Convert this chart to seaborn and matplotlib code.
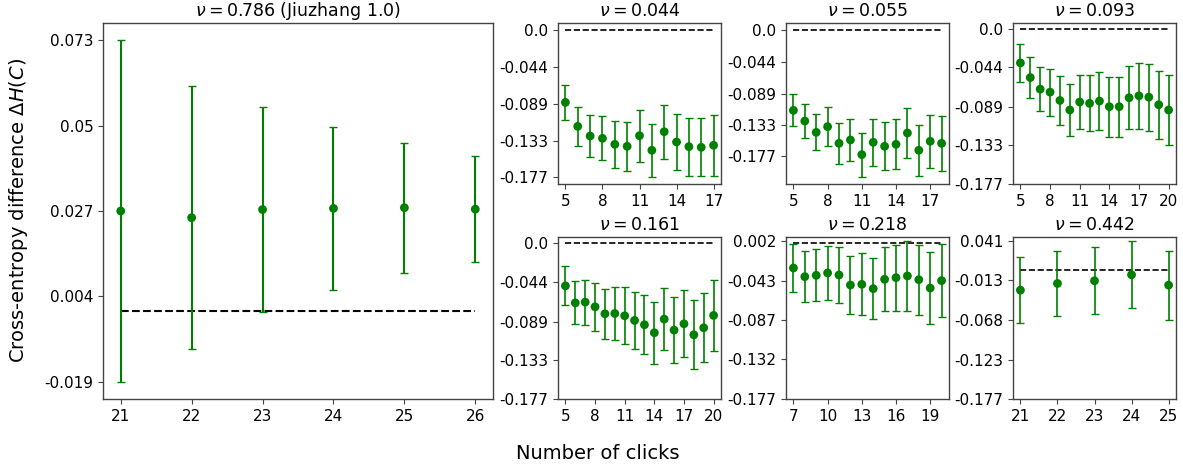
import numpy as np
import pandas as pd
import matplotlib
matplotlib.use("Agg")
import matplotlib.pyplot as plt
import seaborn as sns

# ---------------- data ----------------
titles = [r"$\nu = 0.786$ (Jiuzhang 1.0)", r"$\nu = 0.044$", r"$\nu = 0.055$",
          r"$\nu = 0.093$", r"$\nu = 0.161$", r"$\nu = 0.218$", r"$\nu = 0.442$"]

x_0786 = [21, 22, 23, 24, 25, 26]
y_0786 = [0.0270, 0.0252, 0.0274, 0.0277, 0.0279, 0.0275]
e_0786 = [0.0461, 0.0355, 0.0276, 0.0219, 0.0175, 0.0143]

x_0044 = list(range(5, 18))
y_0044 = [-0.0869, -0.1157, -0.1274, -0.1302, -0.1374, -0.1398, -0.1270,
          -0.1446, -0.1222, -0.1346, -0.1402, -0.1410, -0.1386]
e_0044 = [0.0214, 0.0236, 0.0250, 0.0266, 0.0282, 0.0292, 0.0314,
          0.0318, 0.0326, 0.0340, 0.0348, 0.0351, 0.0370]

x_0055 = list(range(5, 19))
y_0055 = [-0.1125, -0.1275, -0.1434, -0.1354, -0.1588, -0.1541, -0.1747,
          -0.1574, -0.1630, -0.1602, -0.1443, -0.1686, -0.1560, -0.1588]
e_0055 = [0.0224, 0.0243, 0.0252, 0.0278, 0.0287, 0.0301, 0.0310,
          0.0330, 0.0336, 0.0350, 0.0357, 0.0357, 0.0374, 0.0385]

x_0093 = list(range(5, 21))
y_0093 = [-0.0389, -0.0556, -0.0688, -0.0722, -0.0817, -0.0926, -0.0835, -0.0850,
          -0.0824, -0.0888, -0.0888, -0.0786, -0.0764, -0.0779, -0.0866, -0.0926]
e_0093 = [0.0216, 0.0233, 0.0250, 0.0268, 0.0282, 0.0297, 0.0306, 0.0318,
          0.0327, 0.0342, 0.0344, 0.0358, 0.0376, 0.0383, 0.0390, 0.0401]

x_0161 = list(range(5, 21))
y_0161 = [-0.0484, -0.0677, -0.0669, -0.0722, -0.0801, -0.0798, -0.0824, -0.0877,
          -0.0926, -0.1017, -0.0862, -0.0987, -0.0915, -0.1040, -0.0960, -0.0820]
e_0161 = [0.0221, 0.0244, 0.0257, 0.0272, 0.0287, 0.0304, 0.0323, 0.0327,
          0.0338, 0.0352, 0.0355, 0.0376, 0.0382, 0.0391, 0.0393, 0.0405]

x_0218 = list(range(7, 21))
y_0218 = [-0.0287, -0.0385, -0.0370, -0.0343, -0.0366, -0.0480, -0.0472,
          -0.0521, -0.0415, -0.0396, -0.0377, -0.0419, -0.0514, -0.0430]
e_0218 = [0.0277, 0.0286, 0.0295, 0.0307, 0.0320, 0.0331, 0.0350,
          0.0346, 0.0363, 0.0375, 0.0394, 0.0397, 0.0410, 0.0415]

x_0442 = [21, 22, 23, 24, 25]
y_0442 = [-0.0272, -0.0180, -0.0143, -0.0060, -0.0203]
e_0442 = [0.0456, 0.0447, 0.0459, 0.0463, 0.0473]

xticks_list = [[21, 22, 23, 24, 25, 26], [5, 8, 11, 14, 17], [5, 8, 11, 14, 17],
               [5, 8, 11, 14, 17, 20], [5, 8, 11, 14, 17, 20], [7, 10, 13, 16, 19],
               [21, 22, 23, 24, 25]]
yticks_list = [["-0.019", "0.004", "0.027", "0.05", "0.073"],
               ["-0.177", "-0.133", "-0.089", "-0.044", "0.0"],
               ["-0.177", "-0.133", "-0.089", "-0.044", "0.0"],
               ["-0.177", "-0.133", "-0.089", "-0.044", "0.0"],
               ["-0.177", "-0.133", "-0.089", "-0.044", "0.0"],
               ["-0.177", "-0.132", "-0.087", "-0.043", "0.002"],
               ["-0.177", "-0.123", "-0.068", "-0.013", "0.041"]]
ref_level = 0.0
common_floor = -0.177

xs = [x_0786, x_0044, x_0055, x_0093, x_0161, x_0218, x_0442]
ys = [y_0786, y_0044, y_0055, y_0093, y_0161, y_0218, y_0442]
es = [e_0786, e_0044, e_0055, e_0093, e_0161, e_0218, e_0442]

# ---------------- style ----------------
sns.set_theme(style="white")
plt.rcParams.update({
    "font.family": ["DejaVu Sans"],
    "text.color": "black",
    "axes.labelcolor": "black",
    "axes.titlecolor": "black",
    "axes.edgecolor": "#444444",
    "axes.linewidth": 1.0,
    "xtick.bottom": True, "ytick.left": True,
    "xtick.major.size": 3.5, "ytick.major.size": 3.5,
    "xtick.major.width": 0.8, "ytick.major.width": 0.8,
    "xtick.color": "#444444", "ytick.color": "#444444",
    "xtick.labelcolor": "black", "ytick.labelcolor": "black",
    "xtick.labelsize": 11, "ytick.labelsize": 11,
    "axes.titlesize": 12.5,
})

W, H = 1183, 468
fig = plt.figure(figsize=(W / 100, H / 100), dpi=100)

def frac(l, t, r, b):
    return [l / W, 1 - b / H, (r - l) / W, (b - t) / H]

rects = [frac(103, 23, 493, 399),
         frac(558, 23, 721, 184), frac(786, 23, 949, 184), frac(1013, 23, 1176, 184),
         frac(558, 237, 721, 399), frac(786, 237, 949, 399), frac(1013, 237, 1176, 399)]

green = "green"
for i in range(7):
    ax = fig.add_axes(rects[i])
    big = i == 0
    df = pd.DataFrame({"x": xs[i], "y": ys[i], "e": es[i]})
    ax.errorbar(df["x"], df["y"], yerr=df["e"], fmt="none", ecolor=green,
                elinewidth=1.5 if big else 1.2, capsize=3, capthick=1.0, zorder=2)
    sns.scatterplot(data=df, x="x", y="y", color=green, s=40, edgecolor="none",
                    linewidth=0, ax=ax, zorder=3)
    sns.lineplot(x=[xs[i][0], xs[i][-1]], y=[ref_level, ref_level], color="black",
                 linestyle="--", linewidth=1.5 if big else 1.2, ax=ax, zorder=1)
    ax.set_xlabel("")
    ax.set_ylabel("")
    if not big:
        lo, hi = ax.get_ylim()
        ax.set_ylim(min(lo, common_floor), hi)
    ax.set_xticks(xticks_list[i])
    ax.set_yticks([float(t) for t in yticks_list[i]])
    ax.set_yticklabels(yticks_list[i])
    ax.set_title(titles[i], pad=5, color="black")
    ax.tick_params(axis="both", pad=3.5)

fig.text(0.016, 0.551, r"Cross-entropy difference $\Delta H(C)$", rotation=90,
         ha="center", va="center", fontsize=14, color="black")
fig.text(0.5055, 0.032, "Number of clicks", ha="center", va="center", fontsize=14,
         color="black")

fig.savefig("out.png", dpi=100, facecolor="white")
